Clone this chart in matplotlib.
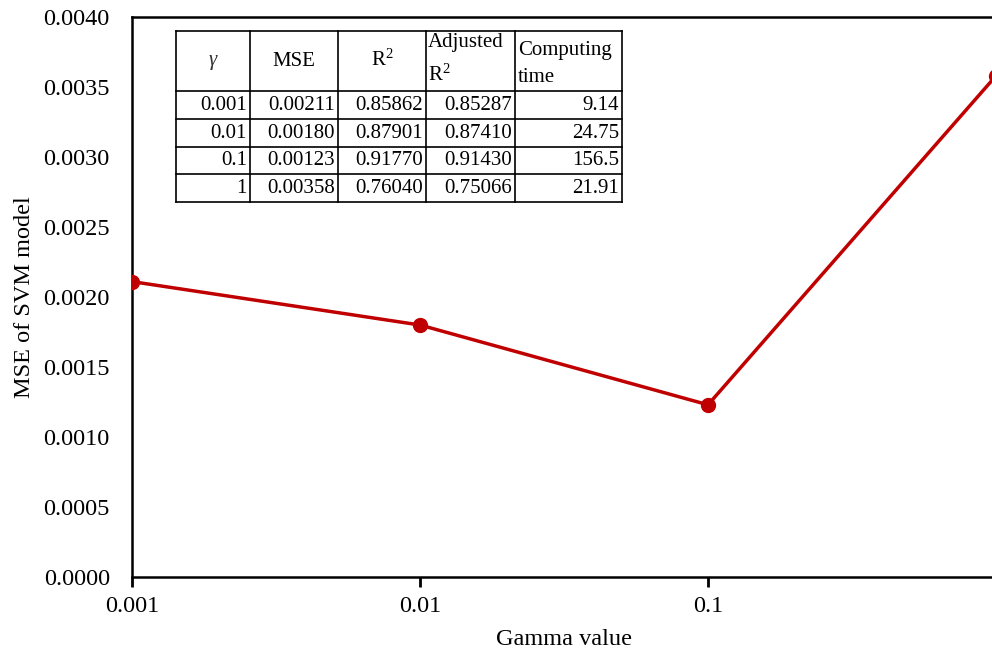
import matplotlib
matplotlib.use("Agg")
import matplotlib.pyplot as plt
from matplotlib.lines import Line2D

plt.rcParams['font.family'] = ['Liberation Serif', 'DejaVu Serif']
plt.rcParams['mathtext.fontset'] = 'custom'
plt.rcParams['mathtext.rm'] = 'Liberation Serif'
plt.rcParams['mathtext.it'] = 'Liberation Serif:italic'

gamma = [0.001, 0.01, 0.1, 1]
mse = [0.00211, 0.00180, 0.00123, 0.00358]
gamma_labels = ["0.001", "0.01", "0.1", "1"]
mse_labels = ["0.00211", "0.00180", "0.00123", "0.00358"]
r2 = ["0.85862", "0.87901", "0.91770", "0.76040"]
adj_r2 = ["0.85287", "0.87410", "0.91430", "0.75066"]
comp_time = ["9.14", "24.75", "156.5", "21.91"]
y_ticks = [0.0, 0.0005, 0.0010, 0.0015, 0.0020, 0.0025, 0.0030, 0.0035, 0.0040]

W, H = 992, 649
fig = plt.figure(figsize=(W / 100, H / 100), dpi=100)
L, R, T, B = 132, 996, 17, 577
ax = fig.add_axes([L / W, (H - B) / H, (R - L) / W, (B - T) / H])

red = '#C00000'
ax.plot(gamma, mse, color=red, lw=2.5, marker='o', ms=10, zorder=3)
ax.set_xscale('log')
ax.set_xlim(0.001, 1)
ax.set_ylim(0, 0.004)
# the tick at gamma=1 sits beyond the right edge of the picture
ax.set_xticks(gamma[:-1])
ax.set_xticklabels(gamma_labels[:-1])
ax.minorticks_off()
ax.set_yticks(y_ticks)
ax.set_yticklabels([f"{v:.4f}" for v in y_ticks])
ax.tick_params(axis='y', length=0, pad=16, labelsize=17.5)
ax.tick_params(axis='x', length=7, width=2, direction='out', pad=7, labelsize=17.5)
for s in ['left', 'top', 'right', 'bottom']:
    ax.spines[s].set_linewidth(1.8)
ax.set_xlabel("Gamma value", fontsize=17.5, labelpad=8)
ax.set_ylabel("MSE of SVM model", fontsize=17.5, labelpad=6)

# table (figure pixel coordinates)
def px(x, y):
    return x / W, (H - y) / H

cols = [176, 250, 338, 426, 515, 622]
rows = [31, 91, 119, 147, 174, 202]
for x in cols:
    fig.add_artist(Line2D([x / W, x / W], [(H - rows[0]) / H, (H - rows[-1]) / H],
                          color='black', lw=1.2))
for y in rows:
    fig.add_artist(Line2D([cols[0] / W, cols[-1] / W], [(H - y) / H, (H - y) / H],
                          color='black', lw=1.2))

fs = 15
fig.text(*px((cols[0] + cols[1]) / 2, 62), r"$\mathit{\gamma}$", ha='center', va='center', fontsize=fs, color='#333333')
fig.text(*px((cols[1] + cols[2]) / 2, 61), "MSE", ha='center', va='center', fontsize=fs)
fig.text(*px((cols[2] + cols[3]) / 2, 60), r"R$^2$", ha='center', va='center', fontsize=fs)
fig.text(*px(cols[3] + 2, rows[0] + 12), "Adjusted", ha='left', va='center', fontsize=fs)
fig.text(*px(cols[3] + 2, rows[0] + 44), r"R$^2$", ha='left', va='center', fontsize=fs)
fig.text(*px(cols[4] + 3, rows[0] + 20), "Computing", ha='left', va='center', fontsize=fs)
fig.text(*px(cols[4] + 3, rows[0] + 46), "time", ha='left', va='center', fontsize=fs)

data_cols = [gamma_labels, mse_labels, r2, adj_r2, comp_time]
for i in range(4):
    yc = (rows[i + 1] + rows[i + 2]) / 2
    for j, col in enumerate(data_cols):
        fig.text(*px(cols[j + 1] - 3, yc), col[i], ha='right', va='center', fontsize=fs)

fig.savefig("out.png", dpi=100)
